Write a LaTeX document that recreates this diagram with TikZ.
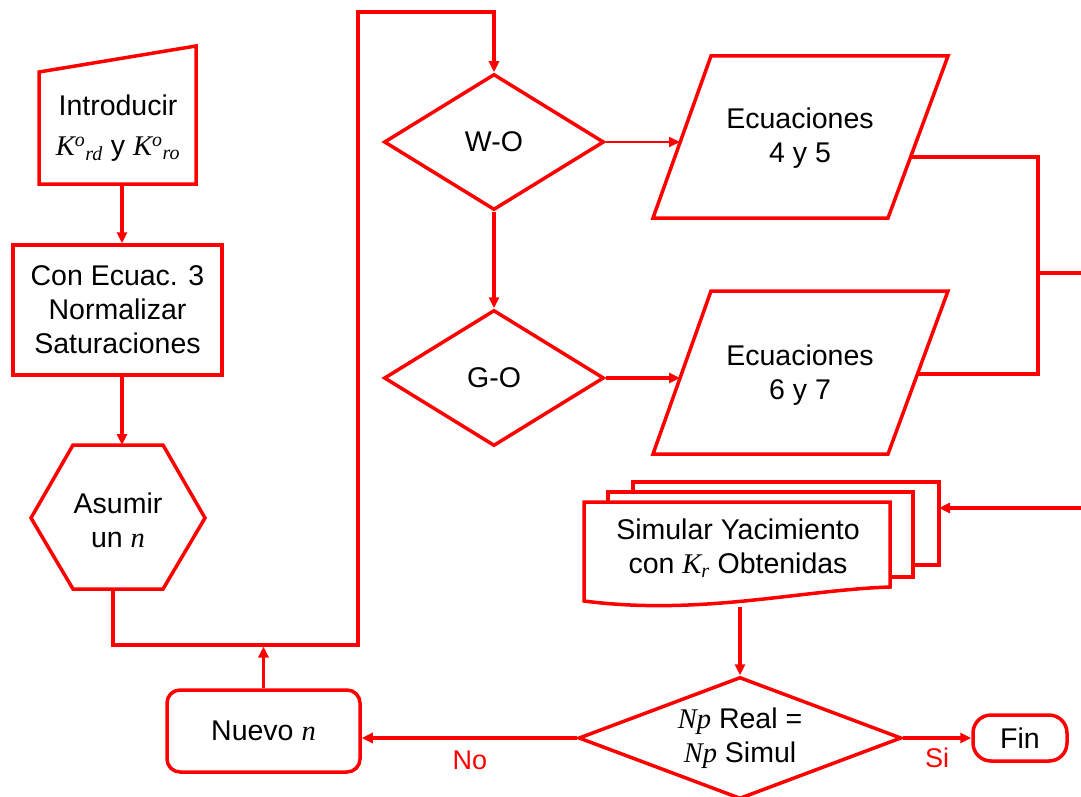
\documentclass[tikz,border=0pt]{standalone}
\usepackage{fontspec}
\setmainfont{Liberation Sans}
\newfontfamily\tms{Liberation Serif}
\usetikzlibrary{shapes.geometric,arrows.meta}
\definecolor{fl}{RGB}{255,0,0}
\newcommand\vi[1]{{\tms\itshape #1}}
\begin{document}
\begin{tikzpicture}[x=1pt,y=-1pt,
  line/.style={draw=fl, line width=3.5pt},
  arr/.style={line, -{Triangle[length=11pt,width=10pt]}},
  arrthin/.style={draw=fl, line width=2pt, -{Triangle[length=11pt,width=10pt]}},
  txt/.style={font=\fontsize{28.5}{34}\selectfont, align=center, text=black, inner sep=0pt},
  lbl/.style={font=\fontsize{27}{32}\selectfont, text=fl, inner sep=0pt},
  shp/.style={line, fill=white, line join=miter}]
\useasboundingbox (0,0) rectangle (1081,797);

% manual input
\path[shp] (39,72) -- (196,46) -- (196,184) -- (39,184) -- cycle;
\node[txt] (intro) at (118,128) {Introducir\\[6pt]\vi{K}\textsuperscript{\vi{o}}\textsubscript{\vi{rd}} y \vi{K}\textsuperscript{\vi{o}}\textsubscript{\vi{ro}}};
\coordinate (intro-s) at (122,184);

% process
\node[shp, txt, minimum width=209pt, minimum height=130pt] (norm) at (117.5,310) {Con Ecuac. 3\\Normalizar\\Saturaciones};
\draw[arr] (intro-s) -- (norm.north -| intro-s);

% hexagon
\path[shp] (31,518) -- (73,445) -- (163,445) -- (205,518) -- (163,589) -- (73,589) -- cycle;
\node[txt] (asum) at (118,520) {Asumir\\un \vi{n}};
\coordinate (hex-n) at (122,445);
\coordinate (hex-s) at (113,589);
\draw[arr] (norm.south -| intro-s) -- (hex-n);

% diamonds W-O, G-O
\node[shp, txt, diamond, minimum width=220pt, minimum height=136pt] (wo) at (494,142) {W-O};
\node[shp, txt, diamond, minimum width=220pt, minimum height=136pt] (go) at (494,378) {G-O};
\draw[arr] (wo.south) -- (go.north);

% loop
\coordinate (loopc) at (358,645);
\coordinate (ltop) at (358,12);
\draw[arr] (hex-s) |- (loopc) -- (ltop) -| (wo.north);

% parallelograms
\path[shp] (711,56) -- (948,56) -- (888,218) -- (653,218) -- cycle;
\node[txt] (eq1) at (800,138) {Ecuaciones\\4 y 5};
\coordinate (p1-in) at (680,142);
\coordinate (p1-out) at (910.6,157);
\path[shp] (711,291) -- (948,291) -- (888,454) -- (653,454) -- cycle;
\node[txt] (eq2) at (800,375) {Ecuaciones\\6 y 7};
\coordinate (p2-in) at (680,378);
\coordinate (p2-out) at (917.4,374);
\draw[arrthin] (wo.east) -- (p1-in);
\draw[arr] (go.east) -- (p2-in);

\coordinate (rx) at (1038,273);
\coordinate (rout) at (1081,273);
\draw[line, line join=miter] (p1-out) -| (rx) |- (p2-out);
\draw[line] (rx) -- (rout);

% multi-document
\path[shp] (633,482) rectangle (939,565);
\path[shp] (608,492) rectangle (913,577);
\path[shp] (584,502) -- (890,502) -- (890,587) .. controls (800,590) and (700,616) .. (584,601) -- cycle;
\node[txt] (sim) at (738,548) {Simular Yacimiento\\con \vi{K}\textsubscript{\vi{r}} Obtenidas};
\coordinate (doc-in) at (939,508);
\coordinate (rin) at (1081,508);
\coordinate (doc-s) at (740,607);
\draw[arr] (rin) -- (doc-in);

% decision
\node[shp, txt, diamond, aspect=2.7, minimum width=323pt, minimum height=122pt] (dec) at (740,738) {\vi{Np} Real =\\\vi{Np} Simul};
\draw[arr] (doc-s) -- (dec.north);

% Nuevo n, Fin
\node[shp, txt, rounded corners=13pt, minimum width=193pt, minimum height=82pt] (nuevo) at (263.5,731) {Nuevo \vi{n}};
\node[shp, txt, rounded corners=18pt, minimum width=94pt, minimum height=46pt] (fin) at (1020,738) {Fin};
\draw[arr] (dec.west) -- (dec.west -| nuevo.east);
\draw[arr] (dec.east) -- (fin.west);
\draw[arr] (nuevo.north) -- ([yshift=-1.5pt]nuevo.north |- loopc);

\node[lbl] (no) at (470,760) {No};
\node[lbl] (si) at (937,758) {Si};
\end{tikzpicture}
\end{document}
